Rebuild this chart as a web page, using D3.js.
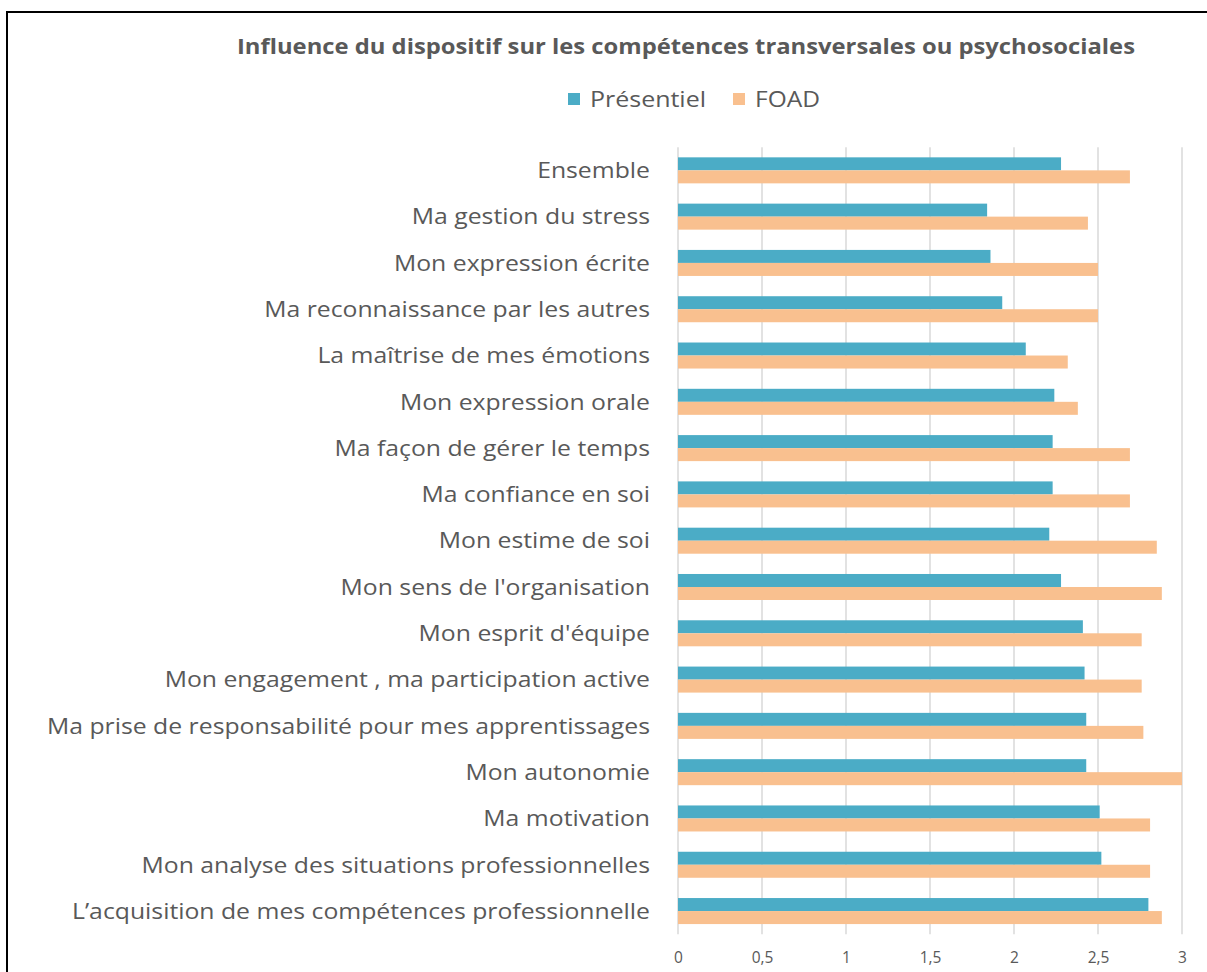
<!DOCTYPE html>
<html>
<head>
<meta charset="utf-8">
<script src="https://cdn.jsdelivr.net/npm/d3@7"></script>
<style>
  html, body { margin: 0; padding: 0; background: #fff; }
  svg { display: block; }
</style>
</head>
<body>
<div id="chart"></div>
<script>
const categories = [
  "Ensemble",
  "Ma gestion du stress",
  "Mon expression écrite",
  "Ma reconnaissance par les autres",
  "La maîtrise de mes émotions",
  "Mon expression orale",
  "Ma façon de gérer le temps",
  "Ma confiance en soi",
  "Mon estime de soi",
  "Mon sens de l'organisation",
  "Mon esprit d'équipe",
  "Mon engagement , ma participation active",
  "Ma prise de responsabilité pour mes apprentissages",
  "Mon autonomie",
  "Ma motivation",
  "Mon analyse des situations professionnelles",
  "L’acquisition de mes compétences professionnelle"
];
const presentiel = [2.28, 1.84, 1.86, 1.93, 2.07, 2.24, 2.23, 2.23, 2.21, 2.28, 2.41, 2.42, 2.43, 2.43, 2.51, 2.52, 2.80];
const foad       = [2.69, 2.44, 2.50, 2.50, 2.32, 2.38, 2.69, 2.69, 2.85, 2.88, 2.76, 2.76, 2.77, 3.00, 2.81, 2.81, 2.88];
const seriesNames = ["Présentiel", "FOAD"];
const tickValues = [0, 0.5, 1, 1.5, 2, 2.5, 3];
const tickLabels = ["0", "0,5", "1", "1,5", "2", "2,5", "3"];
const titleText = "Influence du dispositif sur les compétences transversales ou psychosociales";

const W = 1207, H = 972;
const colors = { "Présentiel": "#4bacc6", "FOAD": "#f9c08f" };
const textColor = "#595959";
const fontFamily = "'Open Sans', 'Noto Sans', sans-serif";

const svg = d3.select("#chart").append("svg").attr("width", W).attr("height", H);

// outer frame (top and left visible)
svg.append("rect").attr("x", 7).attr("y", 12).attr("width", W + 20).attr("height", H + 20)
  .attr("fill", "none").attr("stroke", "#000").attr("stroke-width", 2);

const plot = { left: 678, right: 1182, top: 147.2, bottom: 934.2 };

const x = d3.scaleLinear().domain([0, 3]).range([plot.left, plot.right]);
const y = d3.scaleBand().domain(categories).range([plot.top, plot.bottom])
  .paddingInner(0.438).paddingOuter(0.219);
const ySub = d3.scaleBand().domain(seriesNames).range([0, y.bandwidth()]);

// gridlines
const grid = svg.append("g");
grid.selectAll("line").data(tickValues).join("line")
  .attr("x1", d => x(d)).attr("x2", d => x(d))
  .attr("y1", plot.top).attr("y2", plot.bottom)
  .attr("stroke", "#d9d9d9").attr("stroke-width", 1.5);

// bars
const data = categories.map((c, i) => ({ c, vals: [
  { s: "Présentiel", v: presentiel[i] },
  { s: "FOAD", v: foad[i] }
]}));
const groups = svg.append("g").selectAll("g").data(data).join("g")
  .attr("transform", d => `translate(0,${y(d.c)})`);
groups.selectAll("rect").data(d => d.vals).join("rect")
  .attr("x", x(0))
  .attr("y", d => ySub(d.s))
  .attr("width", d => x(d.v) - x(0))
  .attr("height", ySub.bandwidth())
  .attr("fill", d => colors[d.s]);

// x axis labels
const xAxis = d3.axisBottom(x).tickValues(tickValues)
  .tickFormat((d, i) => tickLabels[i]).tickSize(0).tickPadding(0);
const xg = svg.append("g").attr("transform", `translate(0,${plot.bottom})`).call(xAxis);
xg.select(".domain").remove();
xg.selectAll("text").attr("fill", textColor).attr("font-size", 15.5)
  .attr("font-family", fontFamily).attr("dy", null).attr("y", 29);

// y axis labels
const yAxis = d3.axisLeft(y).tickSize(0).tickPadding(28);
const yg = svg.append("g").attr("transform", `translate(${plot.left},0)`).call(yAxis);
yg.select(".domain").remove();
const yLabels = yg.selectAll("text").attr("fill", textColor).attr("font-size", 21.5)
  .attr("font-family", fontFamily).attr("dy", "0.36em");
// horizontal stretch so the longest label matches the reference width
let maxW = 0;
yLabels.each(function() { maxW = Math.max(maxW, this.getComputedTextLength()); });
const kLab = 603 / maxW;
yLabels.each(function() {
  const w = this.getComputedTextLength();
  d3.select(this).attr("textLength", w * kLab).attr("lengthAdjust", "spacingAndGlyphs");
});

// title
const t = svg.append("text").attr("x", 686).attr("y", 54).attr("text-anchor", "middle")
  .attr("font-family", fontFamily).attr("font-weight", "bold").attr("font-size", 21.5)
  .attr("fill", textColor).text(titleText);
t.attr("textLength", 898).attr("lengthAdjust", "spacingAndGlyphs");

// legend
const legend = svg.append("g");
const legItems = [
  { s: "Présentiel", x: 568, w: 116 },
  { s: "FOAD", x: 733, w: 65 }
];
legItems.forEach(it => {
  legend.append("rect").attr("x", it.x).attr("y", 93).attr("width", 12).attr("height", 12)
    .attr("fill", colors[it.s]);
  const lt = legend.append("text").attr("x", it.x + 22).attr("y", 107)
    .attr("font-family", fontFamily).attr("font-size", 21.5).attr("fill", textColor).text(it.s);
  lt.attr("textLength", it.w).attr("lengthAdjust", "spacingAndGlyphs");
});
</script>
</body>
</html>
